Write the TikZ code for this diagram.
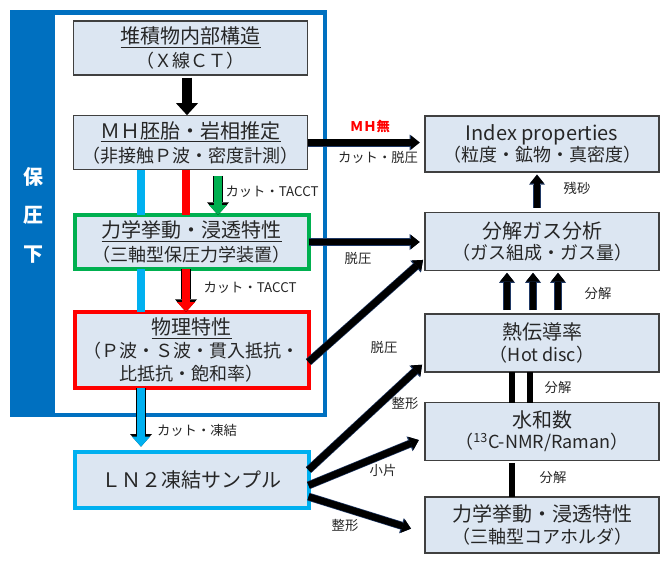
\documentclass[tikz,border=0pt]{standalone}
\usepackage{fontspec}
\setmainfont{Noto Sans CJK JP}
\usetikzlibrary{arrows.meta}
\definecolor{boxfill}{HTML}{DCE6F2}
\definecolor{boxline}{HTML}{404040}
\definecolor{frameblue}{HTML}{0070C0}
\definecolor{sampleblue}{HTML}{00B0F0}
\definecolor{boxgreen}{HTML}{00B050}
\definecolor{arrowline}{HTML}{1F3864}
\newcommand{\smallline}{\fontsize{13.5pt}{18pt}\selectfont}

\begin{document}
\begin{tikzpicture}[
        x = 0.75pt,
        y = -0.75pt,
        every node/.style = {
          inner sep = 0pt,
          outer sep = 0pt,
        },
        box/.style = {
          draw = boxline,
          fill = boxfill,
          line width = 0.8pt,
          minimum width = 175.5pt,
          align = center,
          text = black!85,
          font = \fontsize{15pt}{18pt}\selectfont,
        },
        right box/.style = {
          box,
          font = \fontsize{15pt}{16pt}\selectfont,
        },
        thick box/.style = {
          box,
          line width = 3pt,
          minimum width = 175.5pt,
        },
        note/.style = {
          font = \fontsize{10pt}{12pt}\selectfont,
          text = black!85,
        },
        fat arrow/.style = {
          line width = 7.5pt,
          -{Triangle[length = 9pt, width = 16.5pt, line width = 0pt]},
        },
        flow arrow/.style = {
          line width = 5pt,
          -{Triangle[length = 6.5pt, width = 10.5pt, line width = 0pt]},
          preaction = {
            draw = arrowline,
            line width = 6pt,
            -{Triangle[length = 7.5pt, width = 12pt, line width = 0pt]},
          },
        },
        colour arrow/.style = {
          line width = 6pt,
          -{Triangle[length = 7.5pt, width = 13.5pt, line width = 0pt]},
          preaction = {
            draw = black,
            line width = 7.5pt,
            -{Triangle[length = 9.5pt, width = 16.5pt, line width = 0pt]},
          },
        },
        colour line/.style = {
          line width = 6pt,
        },
        pair line/.style = {
          line width = 5pt,
        },
        ]
        \path [use as bounding box, fill = white] (0,0) rectangle (670,565);

        % frame of the pressurised part
        \fill [frameblue] (10,10) rectangle (327,417);
        \fill [white] (55,15) rectangle (323,413);
        \node [font = \fontsize{15pt}{15pt}\selectfont\bfseries, text = white]
        (hoatsu-1) at (33,177) {保};
        \node [font = \fontsize{15pt}{15pt}\selectfont\bfseries, text = white]
        (hoatsu-2) at (33,215) {圧};
        \node [font = \fontsize{15pt}{15pt}\selectfont\bfseries, text = white]
        (hoatsu-3) at (33,255) {下};

        % left column
        \node [box, minimum height = 40.5pt] (node-ct) at (190.5,48)
        {\underline{堆積物内部構造}\\{\smallline（Ｘ線ＣＴ）}};
        \node [box, minimum height = 41pt] (node-mh) at (190.5,142.5)
        {\underline{ＭＨ胚胎・岩相推定}\\{\smallline（非接触Ｐ波・密度計測）}};
        \node [thick box, draw = boxgreen, minimum height = 40.5pt]
        (node-triaxial) at (191.5,242)
        {\underline{力学挙動・浸透特性}\\{\smallline（三軸型保圧力学装置）}};
        \node [thick box, draw = red, minimum height = 57pt]
        (node-physical) at (191.5,350)
        {\underline{物理特性}\\[-1pt]{\smallline（Ｐ波・Ｓ波・貫入抵抗・}\\[-1pt]{\smallline 比抵抗・飽和率）}};
        \node [thick box, draw = sampleblue, minimum height = 42pt]
        (node-ln2) at (191.5,480) {ＬＮ２凍結サンプル};

        % right column
        \node [right box, minimum height = 42pt] (node-index) at (542,144)
        {Index properties\\{\smallline（粒度・鉱物・真密度）}};
        \node [right box, minimum height = 43pt] (node-gas) at (542,241.5)
        {分解ガス分析\\{\smallline（ガス組成・ガス量）}};
        \node [right box, minimum height = 43.5pt] (node-thermal) at (542,343)
        {熱伝導率\\{\smallline（Hot disc）}};
        \node [right box, minimum height = 43pt] (node-hydration) at (542,431.5)
        {水和数\\{\smallline（\textsuperscript{13}C-NMR/Raman）}};
        \node [right box, minimum height = 42pt] (node-core) at (542,525)
        {力学挙動・浸透特性\\{\smallline（三軸型コアホルダ）}};

        \coordinate (x-cyan) at (141,0);
        \coordinate (x-red) at (186,0);
        \coordinate (x-black) at (187,0);
        \coordinate (x-green) at (218,0);
        \coordinate (x-up-1) at (507,0);
        \coordinate (x-up-2) at (533,0);
        \coordinate (x-up-3) at (558,0);
        \coordinate (x-sand) at (537,0);
        \coordinate (x-pair-1) at (512,0);
        \coordinate (x-pair-2) at (530,0);

        % arrows inside the frame
        \draw [fat arrow, shorten <= 2pt] (node-ct.south -| x-black) -- (node-mh.north -| x-black);
        \draw [colour line, sampleblue] (node-mh.south -| x-cyan) -- (node-triaxial.north -| x-cyan);
        \draw [colour line, sampleblue] (node-triaxial.south -| x-cyan) -- (node-physical.north -| x-cyan);
        \draw [colour arrow, sampleblue, shorten > = 4pt] (node-physical.south -| x-cyan) -- (node-ln2.north -| x-cyan);
        \draw [colour line, red] (node-mh.south -| x-red) -- (node-triaxial.north -| x-red);
        \draw [colour arrow, red] (node-triaxial.south -| x-red) -- (node-physical.north -| x-red);
        \draw [colour arrow, boxgreen, shorten <= 4.5pt] (node-mh.south -| x-green) -- (node-triaxial.north -| x-green);

        % arrows to the right column
        \draw [flow arrow, shorten > = 4pt] (node-mh.east) -- (node-mh.east -| node-index.west);
        \draw [flow arrow, shorten > = 4pt] (node-triaxial.east) -- (node-triaxial.east -| node-gas.west);
        \draw [flow arrow, shorten > = 2pt] ([yshift = -9pt]node-physical.east) -- ([yshift = 9pt]node-gas.south west);
        \draw [flow arrow, shorten > = 3pt] ([yshift = 7.5pt]node-ln2.east) -- ([yshift = 7.5pt]node-thermal.south west);
        \draw [flow arrow, shorten > = 5pt] ([yshift = -4pt]node-ln2.east) -- ([yshift = -4.5pt]node-hydration.west);
        \draw [flow arrow, shorten > = 11pt] ([yshift = -12.5pt]node-ln2.east) -- ([yshift = -6pt]node-core.west);

        % arrows and lines in the right column
        \draw [flow arrow, shorten <= 4pt, shorten > = 2pt] (node-gas.north -| x-sand) -- (node-index.south -| x-sand);
        \draw [flow arrow, shorten <= 3pt, shorten > = 2pt] (node-thermal.north -| x-up-1) -- (node-gas.south -| x-up-1);
        \draw [flow arrow, shorten <= 3pt, shorten > = 2pt] (node-thermal.north -| x-up-2) -- (node-gas.south -| x-up-2);
        \draw [flow arrow, shorten <= 3pt, shorten > = 2pt] (node-thermal.north -| x-up-3) -- (node-gas.south -| x-up-3);
        \draw [pair line] (node-thermal.south -| x-pair-1) -- (node-hydration.north -| x-pair-1);
        \draw [pair line] (node-thermal.south -| x-pair-2) -- (node-hydration.north -| x-pair-2);
        \draw [pair line, shorten <= 2pt] (node-hydration.south -| x-pair-1) -- (node-core.north -| x-pair-1);

        % labels
        \node [note] (note-tacct-1) at (272,192) {カット・TACCT};
        \node [note] (note-tacct-2) at (250,288) {カット・TACCT};
        \node [note] (note-freeze) at (197,430) {カット・凍結};
        \node [note, text = red, font = \fontsize{10pt}{12pt}\selectfont\bfseries] (note-nomh) at (370,126) {ＭＨ無};
        \node [note] (note-cut) at (378,157) {カット・脱圧};
        \node [note] (note-depress-1) at (358,258) {脱圧};
        \node [note] (note-depress-2) at (384,347) {脱圧};
        \node [note] (note-sand) at (577,188) {残砂};
        \node [note] (note-decomp-1) at (598,293) {分解};
        \node [note] (note-decomp-2) at (558,387) {分解};
        \node [note] (note-decomp-3) at (553,477) {分解};
        \node [note] (note-shape-1) at (405,403) {整形};
        \node [note] (note-piece) at (383,470) {小片};
        \node [note] (note-shape-2) at (345,525) {整形};
\end{tikzpicture}
\end{document}
